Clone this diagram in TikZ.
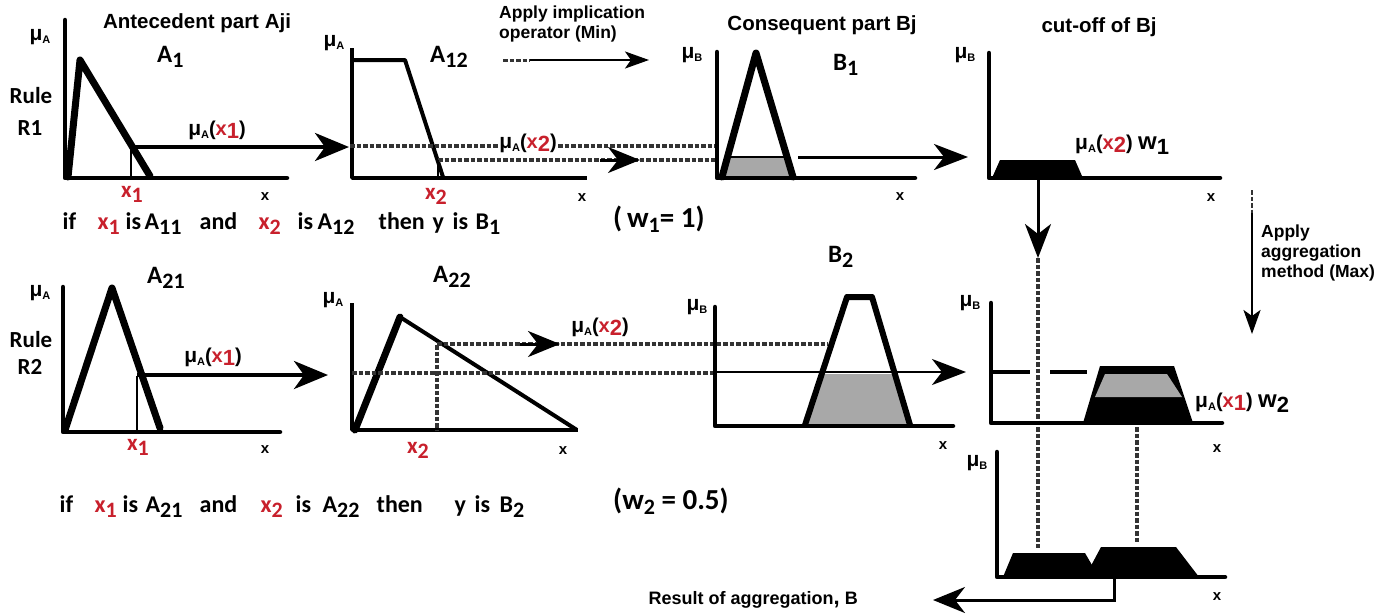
\documentclass[tikz,border=0pt]{standalone}
\usepackage{fontspec}
\setmainfont{Liberation Sans}
\newfontfamily\calib{Carlito}
\usetikzlibrary{arrows.meta}
\definecolor{xred}{HTML}{C8202C}
\definecolor{shadegray}{gray}{0.66}
\newcommand\mulab[1]{{\fontsize{21}{21}\selectfont μ}\raisebox{-3pt}{\fontsize{11}{11}\selectfont #1}}
\newcommand\redx[1]{\textcolor{xred}{x\raisebox{-3pt}{\fontsize{22}{22}\selectfont #1}}}
\newcommand\lowsub[1]{\raisebox{-5pt}{\fontsize{22}{22}\selectfont #1}}
\newcommand\redxx[1]{\textcolor{xred}{x\lowsub{#1}}}
\newcommand\at[2]{\rlap{\hspace{#1pt}#2}}
\tikzset{
 axis/.style={line width=4.5pt, line cap=round, line join=round},
 thinaxis/.style={line width=3.5pt, line join=round},
 memb/.style={line width=7pt, line join=round, line cap=round},
 membthin/.style={line width=4pt, line join=round},
 guide/.style={line width=2pt},
 dots/.style={line width=3.5pt, black!80, dash pattern=on 4.5pt off 2pt},
 bigarrow/.style={line width=4pt, -{Stealth[length=34pt,width=28pt,inset=10pt]}},
 midarrow/.style={line width=3pt, -{Stealth[length=34pt,width=26pt,inset=10pt]}},
 dotarrow/.style={line width=3pt, -{Stealth[length=32pt,width=26pt,inset=10pt]}},
 smallarrow/.style={line width=2.5pt, -{Stealth[length=24pt,width=17pt,inset=6pt]}},
 lab/.style={font=\bfseries\fontsize{20}{20}\selectfont, inner sep=1pt},
 head/.style={font=\bfseries\fontsize{20.5}{20.5}\selectfont, inner sep=0pt},
 note/.style={font=\bfseries\fontsize{17.5}{20}\selectfont, inner sep=0pt, align=left, anchor=north west},
 xlab/.style={font=\bfseries\fontsize{15}{15}\selectfont, inner sep=0pt},
 setname/.style={font=\calib\bfseries\fontsize{25}{25}\selectfont, inner sep=0pt, anchor=base west},
 redname/.style={font=\calib\bfseries\fontsize{23}{23}\selectfont, inner sep=0pt},
 ruletxt/.style={font=\calib\bfseries\fontsize{24}{24}\selectfont, inner sep=0pt, anchor=base west},
 wtxt/.style={font=\calib\bfseries\fontsize{29}{29}\selectfont, inner sep=0pt, anchor=base west},
 rulename/.style={font=\calib\bfseries\fontsize{23}{23}\selectfont, inner sep=0pt},
}
\begin{document}
\begin{tikzpicture}[x=1pt,y=-1pt]
\path[use as bounding box, fill=white] (0,0) rectangle (1397,614);

% ---------- headers ----------
\node[head] (hAnt) at (197,23) {Antecedent part Aji};
\node[head] (hCons) at (822,25) {Consequent part Bj};
\node[head] (hCut) at (1099,27) {cut-off of Bj};
\node[note] (hImpl) at (499,6) {Apply implication\\operator (Min)};
\node[note] (hAggr) at (1261,225) {Apply\\aggregation\\method (Max)};

\node[rulename] (rule1a) at (31,96) {Rule};
\node[rulename] (rule1b) at (30,128) {R1};
\node[rulename] (rule2a) at (31,340) {Rule};
\node[rulename] (rule2b) at (30,367) {R2};

% ---------- panel 1 : A1 ----------
\draw[axis] (65,20) -- (65,178) -- (287,178);
\draw[memb] (68,177) -- (80,60) -- (150,176);
\draw[guide] (131,148) -- (131,178);
\coordinate (p1s) at (131,147);
\coordinate (p1e) at (349,147);
\draw[bigarrow] (p1s) -- (p1e);
\node[lab] (m1) at (217,130) {\mulab{A}(\redx{1})};
\node[lab] (mu1) at (40,37) {\mulab{A}};
\node[setname] (A1) at (157,62) {A\lowsub{1}};
\node[redname, text=xred] (x1a) at (132,194) {x\lowsub{1}};
\node[xlab] (xa1) at (265,197) {x};

% ---------- panel 2 : A12 ----------
\draw[thinaxis] (352,48) -- (352,178) -- (587,178);
\draw[membthin] (352,60) -- (405,60) -- (443,177);
\draw[dots] (350,146) -- (717,146);
\draw[dots] (438,160) -- (717,160);
\draw[dotarrow] (600,160) -- (640,160);
\draw[guide] (438,160) -- (438,178);
\node[lab, fill=white] (m2) at (528,143) {\mulab{A}(\redx{2})};
\node[lab] (mu2) at (334,43) {\mulab{A}};
\node[setname] (A12) at (430,62) {A\lowsub{12}};
\node[redname, text=xred] (x2a) at (436,196) {x\lowsub{2}};
\node[xlab] (xa2) at (582,198) {x};

% implication arrow
\draw[dots, line width=3pt] (503,60) -- (530,60);
\draw[smallarrow] (530,60) -- (649,60);

% ---------- panel 3 : B1 ----------
\fill[shadegray] (726,176) -- (728,157) -- (787,157) -- (791,176) -- cycle;
\draw[axis] (717,52) -- (717,178) -- (915,178);
\draw[memb] (722,177) -- (756,53) -- (793,177);
\draw[guide] (727,157) -- (787,157);
\draw[midarrow] (798,157) -- (968,157);
\node[lab] (mu3) at (692,55) {\mulab{B}};
\node[setname] (B1) at (833,70) {B\lowsub{1}};
\node[xlab] (xa3) at (900,197) {x};

% ---------- panel 4 : cut-off B1 ----------
\draw[axis] (989,53) -- (989,178) -- (1220,178);
\fill (992,178) -- (1000,160) -- (1075,160) -- (1082,176) -- cycle;
\draw[midarrow] (1038,180) -- (1038,258);
\draw[dots] (1038,258) -- (1038,548);
\node[lab] (mu4) at (965,55) {\mulab{B}};
\node[lab, anchor=west] (m4) at (1074,145) {\mulab{A}(\redx{2}) {\fontsize{24}{24}\selectfont w\lowsub{1}}};
\node[xlab] (xa4) at (1211,198) {x};

% aggregation arrow
\draw[dots, line width=2.5pt] (1252,190) -- (1252,213);
\draw[smallarrow] (1252,213) -- (1252,334);

% ---------- rule texts ----------
\node[ruletxt] (rule1) at (0,229) {\at{62}{if}\at{97}{\redxx{1}}\at{125}{is}\at{144}{A\lowsub{11}}\at{199}{and}\at{258}{\redxx{2}}\at{297}{is}\at{317}{A\lowsub{12}}\at{378}{then}\at{432}{y}\at{452}{is}\at{475}{B\lowsub{1}}};
\node[wtxt] (w1) at (613,227) {(\,w\lowsub{1}= 1)};
\node[ruletxt] (rule2) at (0,512) {\at{59}{if}\at{94}{\redxx{1}}\at{122}{is}\at{145}{A\lowsub{21}}\at{199}{and}\at{260}{\redxx{2}}\at{295}{is}\at{322}{A\lowsub{22}}\at{376}{then}\at{454}{y}\at{474}{is}\at{499}{B\lowsub{2}}};
\node[wtxt] (w2) at (613,509) {(w\lowsub{2} = 0.5)};

% ---------- panel 7 : A21 ----------
\draw[axis] (63,287) -- (63,432) -- (280,432);
\draw[memb] (65,430) -- (112,288) -- (160,428);
\draw[guide] (137,376) -- (137,432);
\draw[bigarrow] (137,375) -- (328,375);
\node[lab] (m7) at (213,357) {\mulab{A}(\redx{1})};
\node[lab] (mu7) at (40,293) {\mulab{A}};
\node[setname] (A21) at (147,283) {A\lowsub{21}};
\node[redname, text=xred] (x1b) at (138,447) {x\lowsub{1}};
\node[xlab] (xa7) at (265,450) {x};

% ---------- panel 8 : A22 ----------
\draw[thinaxis] (352,303) -- (352,430) -- (578,430);
\draw[memb] (355,430) -- (400,317);
\draw[membthin] (400,317) -- (577,430);
\draw[dots] (437,345) -- (437,430);
\draw[dots] (437,344) -- (828,344);
\draw[dotarrow] (520,344) -- (560,344);
\draw[dots] (352,373) -- (715,373);
\node[lab] (m8) at (600,327) {\mulab{A}(\redx{2})};
\node[lab] (mu8) at (333,300) {\mulab{A}};
\node[setname] (A22) at (433,282) {A\lowsub{22}};
\node[redname, text=xred] (x2b) at (418,450) {x\lowsub{2}};
\node[xlab] (xa8) at (563,451) {x};

% ---------- panel 6 : B2 ----------
\fill[shadegray] (808,425) -- (823,374) -- (893,374) -- (908,425) -- cycle;
\draw[axis] (715,307) -- (715,426) -- (953,426);
\draw[memb, line width=6pt] (805,425) -- (847,297) -- (872,297) -- (910,425);
\draw[midarrow, line width=2.5pt] (715,372) -- (966,372);
\node[lab] (mu6) at (697,307) {\mulab{B}};
\node[setname] (B2) at (828,262) {B\lowsub{2}};
\node[xlab] (xa6) at (943,446) {x};

% ---------- panel 5 : cut-off B2 ----------
\draw[axis] (991,303) -- (991,423) -- (1222,423);
\draw[line width=4pt] (991,372) -- (1030,372);
\draw[line width=4pt] (1050,372) -- (1087,372);
\fill (1083,423) -- (1100,366) -- (1174,366) -- (1193,423) -- cycle;
\fill[shadegray] (1095,397) -- (1105,374) -- (1167,374) -- (1182,397) -- cycle;
\draw[dots] (1137,427) -- (1137,543);
\node[lab] (mu5) at (970,303) {\mulab{B}};
\node[lab, anchor=west] (m5) at (1194,403) {\mulab{A}(\redx{1}) {\fontsize{24}{24}\selectfont w\lowsub{2}}};
\node[xlab] (xa5) at (1217,449) {x};

% ---------- bottom panel : aggregation ----------
\draw[axis] (997,452) -- (997,577) -- (1225,577);
\fill (1003,577) -- (1013,553) -- (1085,553) -- (1096,572) -- (1096,577) -- cycle;
\fill (1085,577) -- (1101,547) -- (1176,547) -- (1199,577) -- cycle;
\coordinate (aggS) at (1114,578);
\coordinate (aggE) at (933,600);
\draw[dotarrow] (aggS) |- (aggE);
\node[lab] (muB) at (977,463) {\mulab{B}};
\node[xlab] (xaB) at (1217,597) {x};
\node[head, font=\bfseries\fontsize{18}{18}\selectfont, anchor=east] (res) at (858,600) {Result of aggregation{\fontsize{22}{22}\selectfont ,} B};
\end{tikzpicture}
\end{document}
